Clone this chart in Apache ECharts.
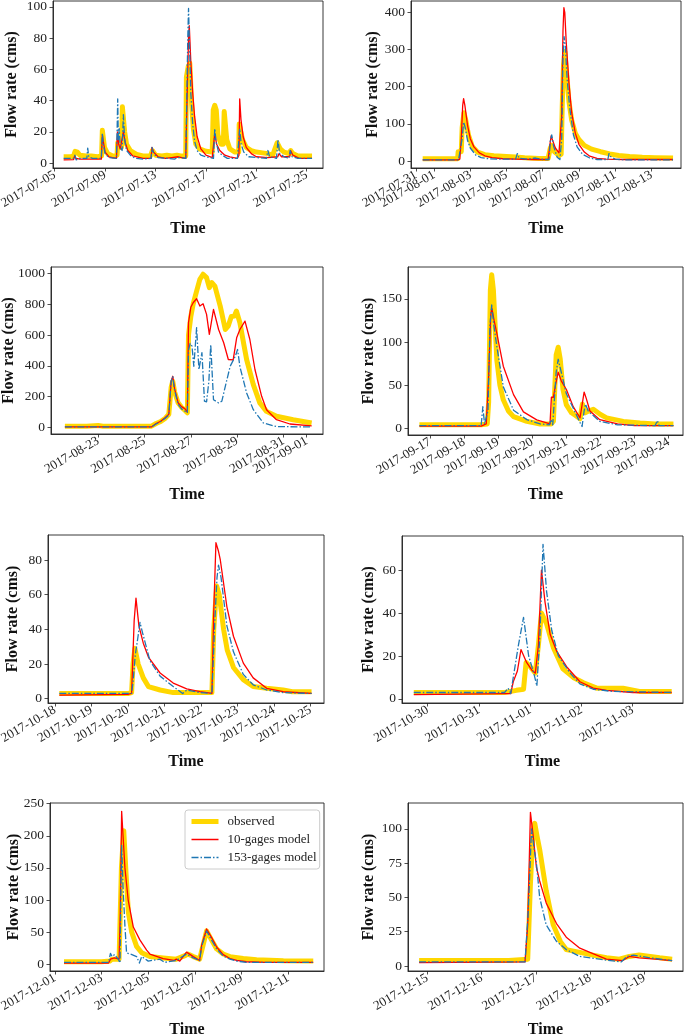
<!DOCTYPE html>
<html><head><meta charset="utf-8">
<script src="https://cdn.jsdelivr.net/npm/echarts@6/dist/echarts.min.js"></script>
<style>html,body{margin:0;padding:0;background:#fff}#c{width:685px;height:1035px}</style>
</head><body><div id="c"></div>
<script>
// ---------- DATA (x = days after each panel's base date, y = flow rate in cms) ----------
const seriesNames = ['observed', '10-gages model', '153-gages model'];
const baseDates = ['2017-07-05','2017-07-31','2017-08-23','2017-09-17','2017-10-18','2017-10-30','2017-12-01','2017-12-15'];

const p1XTicks = ['2017-07-05','2017-07-09','2017-07-13','2017-07-17','2017-07-21','2017-07-25'];
const p2XTicks = ['2017-07-31','2017-08-01','2017-08-03','2017-08-05','2017-08-07','2017-08-09','2017-08-11','2017-08-13'];
const p3XTicks = ['2017-08-23','2017-08-25','2017-08-27','2017-08-29','2017-08-31','2017-09-01'];
const p4XTicks = ['2017-09-17','2017-09-18','2017-09-19','2017-09-20','2017-09-21','2017-09-22','2017-09-23','2017-09-24'];
const p5XTicks = ['2017-10-18','2017-10-19','2017-10-20','2017-10-21','2017-10-22','2017-10-23','2017-10-24','2017-10-25'];
const p6XTicks = ['2017-10-30','2017-10-31','2017-11-01','2017-11-02','2017-11-03'];
const p7XTicks = ['2017-12-01','2017-12-03','2017-12-05','2017-12-07','2017-12-09','2017-12-11'];
const p8XTicks = ['2017-12-15','2017-12-16','2017-12-17','2017-12-18','2017-12-19'];

const p1YTicks = [0,20,40,60,80,100];
const p2YTicks = [0,100,200,300,400];
const p3YTicks = [0,200,400,600,800,1000];
const p4YTicks = [0,50,100,150];
const p5YTicks = [0,20,40,60,80];
const p6YTicks = [0,20,40,60];
const p7YTicks = [0,50,100,150,200,250];
const p8YTicks = [0,25,50,75,100];

const p1Obs = [[0.71,4],[1.3,4],[1.5,4.5],[1.62,7.5],[1.8,7],[2.0,5],[2.5,4.5],[2.9,4.5],[3.4,4],[3.72,4.5],[3.78,21],[3.85,20],[3.95,10],[4.2,6],[4.6,4.5],[4.95,5],[5.0,13],[5.15,14],[5.3,10],[5.37,36],[5.47,37],[5.55,20],[5.7,12],[6.0,8],[6.5,5.5],[7.0,4.5],[7.6,4.5],[7.75,8],[8.0,5],[8.5,4.5],[8.9,5],[9.3,4.5],[9.7,5],[10.0,4.5],[10.4,4.5],[10.45,55],[10.6,62],[10.72,64],[10.85,40],[11.0,22],[11.2,12],[11.5,9],[12.0,7.5],[12.5,7],[12.58,34],[12.7,37],[12.82,34],[12.95,18],[13.2,12],[13.38,12],[13.45,33],[13.52,33],[13.65,15],[13.9,9],[14.3,7],[14.6,7],[14.64,25],[14.75,25],[14.9,15],[15.2,10],[15.6,8],[16.0,7],[16.5,6.5],[16.9,6],[17.3,5],[17.65,13],[17.78,14],[17.9,9],[18.2,7],[18.6,6],[18.72,8],[18.9,6],[19.3,4.5],[20.0,4.5],[20.42,4.5]];
const p1Ten = [[0.71,2],[1.5,2.2],[1.58,4.5],[1.7,3],[2.0,2.5],[2.6,2.5],[3.0,2.5],[3.7,2.5],[3.78,18],[3.85,14],[4.0,7],[4.3,4],[4.9,3],[4.98,20],[5.08,12],[5.2,9],[5.35,10],[5.45,20],[5.6,13],[5.8,8],[6.2,4.5],[7.0,3],[7.65,3],[7.72,10],[7.85,7],[8.2,4],[8.8,3],[9.3,3.5],[9.8,4],[10.4,3],[10.5,40],[10.62,80],[10.68,88],[10.8,65],[10.95,45],[11.1,30],[11.3,17],[11.6,9],[12.0,5],[12.5,3.5],[12.65,4],[12.7,19],[12.85,12],[13.1,8],[13.5,5],[13.9,4],[14.5,3],[14.62,5],[14.68,41],[14.78,28],[14.95,17],[15.2,10],[15.6,6],[16.0,4],[16.9,3.5],[17.7,4],[17.8,6],[18.0,4],[18.65,4],[18.72,8],[18.9,5],[19.4,3],[20.42,3]];
const p1Big = [[0.71,3],[1.5,3],[1.6,5],[1.7,2],[2.0,3],[2.55,3],[2.62,9.5],[2.7,4],[3.0,3],[3.7,3],[3.78,19],[3.85,12],[4.0,6],[4.3,3.5],[4.9,3],[4.95,20],[5.0,41],[5.05,15],[5.12,22],[5.2,10],[5.35,8],[5.45,31],[5.55,15],[5.7,8],[6.0,5],[6.4,3],[7.0,2.5],[7.65,3],[7.72,10],[7.85,6],[8.2,3.5],[8.9,3],[9.5,2.5],[9.8,3.5],[10.4,3],[10.48,40],[10.56,80],[10.62,99],[10.7,75],[10.8,45],[10.95,25],[11.1,14],[11.3,8],[11.6,5],[12.0,4],[12.6,3],[12.7,22],[12.8,14],[13.0,7],[13.3,5],[13.7,3],[14.5,3],[14.62,4],[14.68,22],[14.8,12],[15.0,7],[15.4,4],[16.0,3.5],[16.8,3],[16.92,8],[17.05,4],[17.6,3],[17.72,15],[17.85,6],[18.2,4],[18.6,3],[18.68,8],[18.85,4],[19.3,3],[20.42,3]];

const p2Obs = [[0.37,6],[1.0,6],[2.0,6],[2.3,6],[2.33,25],[2.5,25],[2.55,90],[2.65,130],[2.75,110],[2.9,70],[3.1,40],[3.4,24],[3.8,17],[4.3,14],[5.0,12],[5.5,11],[6.0,9],[6.8,7],[7.3,7],[7.42,35],[7.5,42],[7.65,25],[7.9,15],[8.02,18],[8.08,150],[8.15,260],[8.22,295],[8.3,250],[8.45,160],[8.6,110],[8.8,75],[9.0,58],[9.3,42],[9.7,32],[10.2,25],[10.7,19],[11.2,15],[11.8,12],[12.5,10],[13.2,9],[14.2,8]];
const p2Ten = [[0.37,3],[2.3,3],[2.42,5],[2.5,60],[2.58,150],[2.63,168],[2.7,150],[2.85,95],[3.0,60],[3.2,38],[3.5,22],[3.8,14],[4.2,9],[4.8,6],[5.5,5],[6.5,4],[7.3,4],[7.4,45],[7.47,68],[7.55,55],[7.7,35],[7.9,22],[8.0,20],[8.05,120],[8.12,350],[8.17,413],[8.22,400],[8.3,320],[8.45,210],[8.6,130],[8.8,75],[9.0,45],[9.3,24],[9.6,13],[10.0,7],[10.5,5],[11.5,4],[14.2,4]];
const p2Big = [[0.37,3],[2.35,3],[2.45,8],[2.55,60],[2.63,105],[2.72,90],[2.85,55],[3.0,35],[3.3,16],[3.6,9],[4.0,6],[4.6,5],[4.7,10],[4.8,5],[5.5,5],[5.6,20],[5.7,7],[6.2,5],[6.6,8],[7.0,4],[7.35,4],[7.42,55],[7.5,70],[7.6,40],[7.8,10],[7.95,4],[8.05,60],[8.12,280],[8.18,335],[8.25,310],[8.35,220],[8.5,140],[8.7,70],[8.9,38],[9.2,18],[9.6,8],[10.0,4],[10.6,4],[10.66,20],[10.75,12],[11.0,5],[11.5,3],[14.2,3]];

const p3Obs = [[-1.44,8],[-0.5,8],[0.0,12],[0.2,8],[1.0,8],[2.0,8],[2.3,8],[2.5,25],[2.7,38],[2.9,60],[3.05,85],[3.15,260],[3.22,300],[3.3,230],[3.45,160],[3.6,130],[3.75,110],[3.85,95],[3.9,600],[4.0,720],[4.1,800],[4.25,886],[4.39,962],[4.53,995],[4.68,973],[4.8,908],[4.9,941],[5.04,918],[5.27,788],[5.49,636],[5.62,660],[5.75,720],[5.88,723],[5.97,756],[6.12,680],[6.3,530],[6.41,441],[6.7,278],[6.98,159],[7.27,104],[7.7,72],[8.42,50],[9.22,29]];
const p3Ten = [[-1.44,3],[2.3,3],[2.5,25],[2.7,40],[2.9,65],[3.05,85],[3.15,300],[3.22,332],[3.3,250],[3.45,160],[3.6,135],[3.75,120],[3.85,100],[3.9,680],[4.0,780],[4.1,810],[4.25,836],[4.39,788],[4.53,803],[4.68,734],[4.8,604],[4.98,767],[5.2,636],[5.42,550],[5.62,441],[5.83,438],[5.98,582],[6.12,636],[6.34,690],[6.55,571],[6.77,376],[7.06,202],[7.27,115],[7.7,50],[8.28,22],[9.22,10]];
const p3Big = [[-1.44,3],[2.3,3],[2.5,22],[2.7,38],[2.9,60],[3.05,80],[3.15,300],[3.22,330],[3.3,240],[3.45,150],[3.6,120],[3.75,105],[3.85,95],[3.9,500],[3.97,545],[4.05,528],[4.13,397],[4.25,648],[4.35,376],[4.48,485],[4.59,170],[4.68,166],[4.78,300],[4.86,539],[4.98,180],[5.2,159],[5.34,170],[5.49,267],[5.7,397],[5.92,462],[6.02,506],[6.12,395],[6.41,224],[6.7,115],[7.13,29],[7.7,5],[9.22,3]];

const p4Obs = [[-0.31,4],[0.5,4],[1.0,4],[1.5,4],[1.68,5],[1.72,30],[1.77,160],[1.81,178],[1.86,160],[1.96,79],[2.05,50],[2.15,33],[2.3,20],[2.45,13.5],[2.84,8],[3.23,5],[3.55,5],[3.62,8],[3.7,85],[3.76,94],[3.82,80],[3.9,45],[4.0,27],[4.15,18],[4.3,14],[4.4,11],[4.47,28],[4.55,18],[4.65,20],[4.79,22],[5.0,16],[5.18,12],[5.67,8],[6.16,6],[6.6,5],[7.14,5]];
const p4Ten = [[-0.31,2.5],[1.5,2.5],[1.65,5],[1.72,60],[1.78,130],[1.81,140],[1.88,125],[1.96,110],[2.15,72],[2.45,39],[2.74,19],[3.13,9.7],[3.52,5],[3.56,36],[3.62,36],[3.68,50],[3.76,65],[3.85,55],[4.0,45],[4.2,25],[4.4,12],[4.45,10],[4.52,42],[4.58,35],[4.69,20],[4.98,10],[5.5,5],[6.0,3],[7.14,3]];
const p4Big = [[-0.31,3],[1.5,3],[1.55,25],[1.6,5],[1.7,20],[1.76,120],[1.81,143],[1.87,120],[1.96,95],[2.15,48],[2.45,21],[2.84,10],[3.23,5],[3.5,4],[3.55,10],[3.6,4],[3.7,65],[3.76,80],[3.82,70],[4.0,40],[4.3,15],[4.42,5],[4.46,2],[4.52,20],[4.56,28],[4.64,20],[4.98,8],[5.5,4],[6.6,3],[6.67,9],[6.72,3],[7.14,3]];

const p5Obs = [[0.12,3],[1.0,3],[2.0,3],[2.1,3.5],[2.14,20],[2.19,29],[2.28,20],[2.42,12],[2.56,7],[2.88,5],[3.24,3.5],[3.6,3.5],[4.0,3.5],[4.3,3.5],[4.35,40],[4.43,65],[4.5,60],[4.62,40],[4.72,28],[4.89,18],[5.16,11],[5.43,7],[5.8,6],[6.25,5],[6.5,4],[7.03,4]];
const p5Ten = [[0.12,2],[2.0,2.5],[2.1,3],[2.17,45],[2.22,58],[2.3,42],[2.42,32],[2.56,24],[2.88,14.8],[3.24,9],[3.61,5.6],[3.97,4],[4.3,3],[4.35,50],[4.41,90],[4.48,85],[4.53,80],[4.71,53],[4.89,36],[5.16,20.5],[5.43,12],[5.8,6],[6.25,4],[7.03,3]];
const p5Big = [[0.12,3],[2.0,3],[2.1,3],[2.14,10],[2.2,25],[2.27,35],[2.33,44],[2.4,38],[2.6,22],[2.88,13],[3.24,7],[3.5,3],[3.61,5],[3.97,3.5],[4.3,3],[4.38,45],[4.44,70],[4.48,77],[4.55,70],[4.71,42],[4.89,27],[5.16,14],[5.43,8],[5.8,5],[6.25,3.5],[7.03,3]];

const p6Obs = [[-0.27,3],[0.5,3],[1.0,3],[1.5,3],[1.73,4],[1.87,4.5],[1.92,17],[2.0,15],[2.1,12],[2.16,25],[2.22,40],[2.32,35],[2.45,24],[2.64,14],[2.84,10],[3.04,7.5],[3.3,5],[3.5,5],[3.81,5],[4.13,3.5],[4.76,3.5]];
const p6Ten = [[-0.27,2],[1.5,2.5],[1.62,2.5],[1.67,8],[1.75,13],[1.82,23],[1.93,17],[2.03,13.5],[2.1,12],[2.16,25],[2.22,60],[2.29,45],[2.39,30],[2.52,22],[2.71,15],[2.97,8],[3.23,5],[3.49,4],[4.0,3],[4.76,3]];
const p6Big = [[-0.27,3],[1.5,3],[1.57,5],[1.62,2.5],[1.67,10],[1.77,25],[1.87,38],[1.97,20],[2.07,12],[2.13,6],[2.19,30],[2.25,72],[2.32,50],[2.42,32],[2.55,20],[2.78,12],[2.97,7],[3.23,4.5],[3.6,3.5],[4.76,3]];

const p7Obs = [[0.39,4],[1.0,4],[2.0,4],[2.35,5],[2.45,8],[2.75,8],[2.85,150],[2.95,208],[3.05,140],[3.15,80],[3.29,50],[3.5,28],[3.72,18],[3.79,19],[4.07,12],[4.64,10],[5.2,8],[5.6,14],[5.7,16],[5.93,12],[6.2,8],[6.35,30],[6.5,52],[6.71,38],[6.93,24],[7.21,16],[7.5,12],[8.07,9],[8.64,7],[9.79,5.5],[11.07,5]];
const p7Ten = [[0.39,2],[2.3,2],[2.38,8],[2.55,10],[2.75,8],[2.8,80],[2.86,238],[2.92,200],[3.0,150],[3.14,100],[3.36,58],[3.64,38],[3.93,22],[4.07,16],[4.64,9],[5.1,6],[5.2,8],[5.35,5],[5.64,19],[5.93,12],[6.2,6],[6.29,30],[6.5,55],[6.71,42],[6.93,27],[7.21,15],[7.5,9],[7.79,6],[8.2,4],[9.0,3],[11.07,3]];
const p7Big = [[0.39,3],[2.3,3],[2.38,17],[2.45,12],[2.55,15],[2.72,8],[2.79,2],[2.83,120],[2.86,185],[2.92,120],[3.0,60],[3.07,18],[3.3,15],[3.5,12],[3.62,2],[3.72,12],[4.0,5],[4.5,8],[4.7,3],[5.2,6],[5.64,16],[5.93,10],[6.2,6],[6.29,28],[6.5,52],[6.71,38],[6.93,24],[7.21,13],[7.5,8],[7.79,5],[8.2,3],[11.07,3]];

const p8Obs = [[-0.15,4],[0.5,4],[1.0,4],[1.5,4],[1.85,5],[1.9,60],[1.95,100],[1.98,104],[2.02,95],[2.07,85],[2.19,55],[2.32,30],[2.45,18],[2.56,12],[2.81,10],[3.05,8],[3.3,6],[3.54,5],[3.72,7],[3.9,8],[4.28,6],[4.51,5]];
const p8Ten = [[-0.15,2.5],[1.8,3],[1.85,30],[1.9,112],[1.95,95],[2.01,72],[2.07,62],[2.19,46],[2.38,31],[2.56,21],[2.81,13],[3.05,9],[3.3,5],[3.6,4],[3.72,7],[3.9,6],[4.2,5],[4.51,4]];
const p8Big = [[-0.15,3],[1.8,3],[1.86,40],[1.92,100],[1.97,85],[2.01,75],[2.07,50],[2.19,30],[2.38,18],[2.56,12],[2.81,7],[3.17,5],[3.57,3],[3.68,7],[3.8,8],[4.1,6],[4.51,4]];

// ---------- LAYOUT (pixel frames, axis extents, title gaps) ----------
const panels = [
  {g:[53,1,270,167],   x:[-0.135,21.29], y:[-3.2,103.8],  xt:p1XTicks, yt:p1YTicks, d:[p1Obs,p1Ten,p1Big], yg:33, xg:53},
  {g:[411,1,270,167],  x:[-0.276,14.64], y:[-18.9,431],   xt:p2XTicks, yt:p2YTicks, d:[p2Obs,p2Ten,p2Big], yg:30, xg:53},
  {g:[51,267,272,167], x:[-2.04,9.71],   y:[-43,1042],    xt:p3XTicks, yt:p3YTicks, d:[p3Obs,p3Ten,p3Big], yg:34, xg:53},
  {g:[408,267,275,168],x:[-0.645,7.42],  y:[-7.8,187],    xt:p4XTicks, yt:p4YTicks, d:[p4Obs,p4Ten,p4Big], yg:31, xg:52},
  {g:[48,535,276,168], x:[-0.19,7.37],   y:[-2.5,94.4],   xt:p5XTicks, yt:p5YTicks, d:[p5Obs,p5Ten,p5Big], yg:27, xg:51},
  {g:[402,536,281,167],x:[-0.5,4.98],    y:[-1.9,75.9],   xt:p6XTicks, yt:p6YTicks, d:[p6Obs,p6Ten,p6Big], yg:25, xg:51},
  {g:[50,803,274,168], x:[-0.21,11.53],  y:[-10.4,251],   xt:p7XTicks, yt:p7YTicks, d:[p7Obs,p7Ten,p7Big], yg:28.5, xg:51},
  {g:[408,803,275,168],x:[-0.355,4.71],  y:[-3.6,118.8],  xt:p8XTicks, yt:p8YTicks, d:[p8Obs,p8Ten,p8Big], yg:31, xg:51}
];

const DAY = 86400000;
function toUTC(s){ const p = s.split('-').map(Number); return Date.UTC(p[0], p[1]-1, p[2]); }
function pad(n){ return (n<10?'0':'')+n; }

const FONT = 'Liberation Serif';
const INK = '#222';
const styles = [
  {color:'#FFD700', width:5,   type:'solid', z:2},
  {color:'#FF0000', width:1.3, type:'solid', z:3},
  {color:'#1f77b4', width:1.3, type:[7,2,1.5,2], z:4}
];

const grid = [], xAxis = [], yAxis = [], series = [], extraX = [];
panels.forEach((p, i) => {
  const b = toUTC(baseDates[i]);
  const fmt = v => { const d = new Date(b + Math.round(v*DAY)); return d.getUTCFullYear()+'-'+pad(d.getUTCMonth()+1)+'-'+pad(d.getUTCDate()); };
  grid.push({left:p.g[0], top:p.g[1], width:p.g[2], height:p.g[3], show:true,
    borderColor:INK, borderWidth:0.9, backgroundColor:'transparent', containLabel:false, outerBoundsMode:'none'});
  const xVals = p.xt.map(s => (toUTC(s) - b) / DAY);
  // ticks closer than ~24px would be dropped by the label-overlap logic; put those on a twin axis
  const pxPerDay = p.g[2] / (p.x[1] - p.x[0]);
  const mainV = [xVals[0]], twinV = [];
  for (let k = 1; k < xVals.length; k++) {
    const last = mainV[mainV.length-1];
    if ((xVals[k] - last) * pxPerDay < 24) twinV.push(xVals[k]); else mainV.push(xVals[k]);
  }
  const labelBase = {interval:0, showMinLabel:true, showMaxLabel:true, hideOverlap:false,
      rotate:30, margin:6, fontFamily:FONT, fontSize:13, color:INK, formatter: fmt};
  xAxis.push({type:'value', gridIndex:i, min:p.x[0], max:p.x[1],
    name:'Time', nameLocation:'middle', nameGap:p.xg, nameMoveOverlap:false,
    nameTextStyle:{fontFamily:FONT, fontWeight:'bold', fontSize:16, color:'#111'},
    axisLine:{show:true, onZero:false, lineStyle:{color:INK, width:0.9}},
    axisTick:{show:true, customValues:mainV, length:3.5, lineStyle:{color:INK, width:0.8}},
    splitLine:{show:false},
    axisLabel:Object.assign({customValues:mainV}, labelBase)
  });
  if (twinV.length) {
    extraX.push({type:'value', gridIndex:i, min:p.x[0], max:p.x[1], position:'bottom', offset:0,
      axisLine:{show:false, onZero:false},
      axisTick:{show:true, customValues:twinV, length:3.5, lineStyle:{color:INK, width:0.8}},
      splitLine:{show:false},
      axisLabel:Object.assign({customValues:twinV}, labelBase)
    });
  }
  yAxis.push({type:'value', gridIndex:i, min:p.y[0], max:p.y[1],
    name:'Flow rate (cms)', nameLocation:'middle', nameGap:p.yg, nameMoveOverlap:false,
    nameTextStyle:{fontFamily:FONT, fontWeight:'bold', fontSize:16, color:'#111'},
    axisLine:{show:true, onZero:false, lineStyle:{color:INK, width:0.9}},
    axisTick:{show:true, customValues:p.yt, length:3.5, lineStyle:{color:INK, width:0.8}},
    splitLine:{show:false},
    axisLabel:{customValues:p.yt, showMinLabel:true, showMaxLabel:true, margin:6, fontFamily:FONT, fontSize:13.5, color:INK, formatter: v => String(v)}
  });
  p.d.forEach((arr, k) => {
    const s = styles[k];
    series.push({type:'line', name:seriesNames[k], xAxisIndex:i, yAxisIndex:i, data:arr,
      symbol:'none', showSymbol:false, z:s.z, clip:true, animation:false,
      itemStyle:{color:s.color},
      lineStyle:{color:s.color, width:s.width, type:s.type, join:'round', cap:'butt'}});
  });
});

const legendWidths = [5, 1.5, 1.5];
const chart = echarts.init(document.getElementById('c'), null, {renderer:'canvas'});
chart.setOption({
  animation:false,
  backgroundColor:'#fff',
  grid, xAxis: xAxis.concat(extraX), yAxis, series,
  legend:{data:seriesNames.map((n, k) => ({name:n, lineStyle:{width:legendWidths[k]}})),
    orient:'vertical', left:185, top:810, itemWidth:27, itemHeight:10, itemGap:5,
    selectedMode:false, backgroundColor:'rgba(255,255,255,0.85)', borderColor:'#ccc', borderWidth:1, borderRadius:3,
    itemStyle:{opacity:0},
    padding:[5,3,5,4], textStyle:{fontFamily:FONT, fontSize:13, color:'#222', padding:[0,0,0,4]}}
});
</script></body></html>
